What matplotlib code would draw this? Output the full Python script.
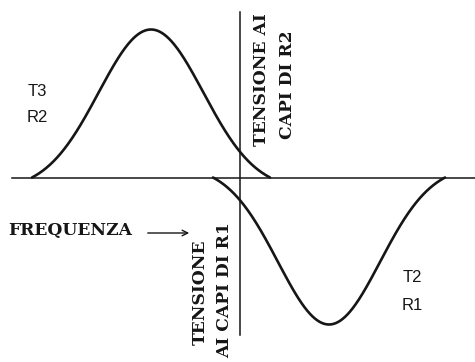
import numpy as np
import matplotlib
matplotlib.use("Agg")
import matplotlib.pyplot as plt

# two bell-shaped pulses, one above and one below the frequency axis
centres = [-89, 89]
heights = [148, -147]
half_widths = [119, 116]
sigma_ratio = 0.44

axis_x = (-228, 235)
axis_y = (-157, 166)

ink = "#161616"


def bell(centre, height, half_width):
    s = half_width * sigma_ratio
    x = np.linspace(centre - half_width, centre + half_width, 400)
    g = np.exp(-(x - centre) ** 2 / (2 * s ** 2))
    g0 = np.exp(-half_width ** 2 / (2 * s ** 2))
    return x, height * (g - g0) / (1 - g0)


fig = plt.figure(figsize=(4.75, 3.62), dpi=100)
ax = fig.add_axes([0, 0, 1, 1])
ax.set_xlim(-240, 235)
ax.set_ylim(-184.5, 177.5)
ax.axis("off")

ax.plot(axis_x, [0, 0], color=ink, lw=1.1)
ax.plot([0, 0], axis_y, color=ink, lw=1.1)

for c, h, w in zip(centres, heights, half_widths):
    x, y = bell(c, h, w)
    ax.plot(x, y, color=ink, lw=1.9, solid_capstyle="round")

sans = dict(family="Liberation Sans", fontsize=12, color=ink, ha="center", va="center")
ax.text(-203, 85.5, "T3", **sans)
ax.text(-203, 60.5, "R2", **sans)
ax.text(172, -100.5, "T2", **sans)
ax.text(172, -127.5, "R1", **sans)

serif = dict(family="DejaVu Serif", fontweight="bold", fontsize=12.3, color=ink)
ax.text(-232, -53.5, "FREQUENZA", ha="left", va="center", **serif)
ax.annotate("", xy=(-48, -55.5), xytext=(-95, -55.5),
            arrowprops=dict(arrowstyle="->", color=ink, lw=1.0))

ax.text(22, 97.5, "TENSIONE AI", rotation=90, ha="center", va="center", **serif)
ax.text(47, 92.5, "CAPI DI R2", rotation=90, ha="center", va="center", **serif)
ax.text(-40, -114.5, "TENSIONE", rotation=90, ha="center", va="center", **serif)
ax.text(-15, -112.5, "AI CAPI DI R1", rotation=90, ha="center", va="center", **serif)

fig.savefig("out.png", dpi=100, facecolor="white")
